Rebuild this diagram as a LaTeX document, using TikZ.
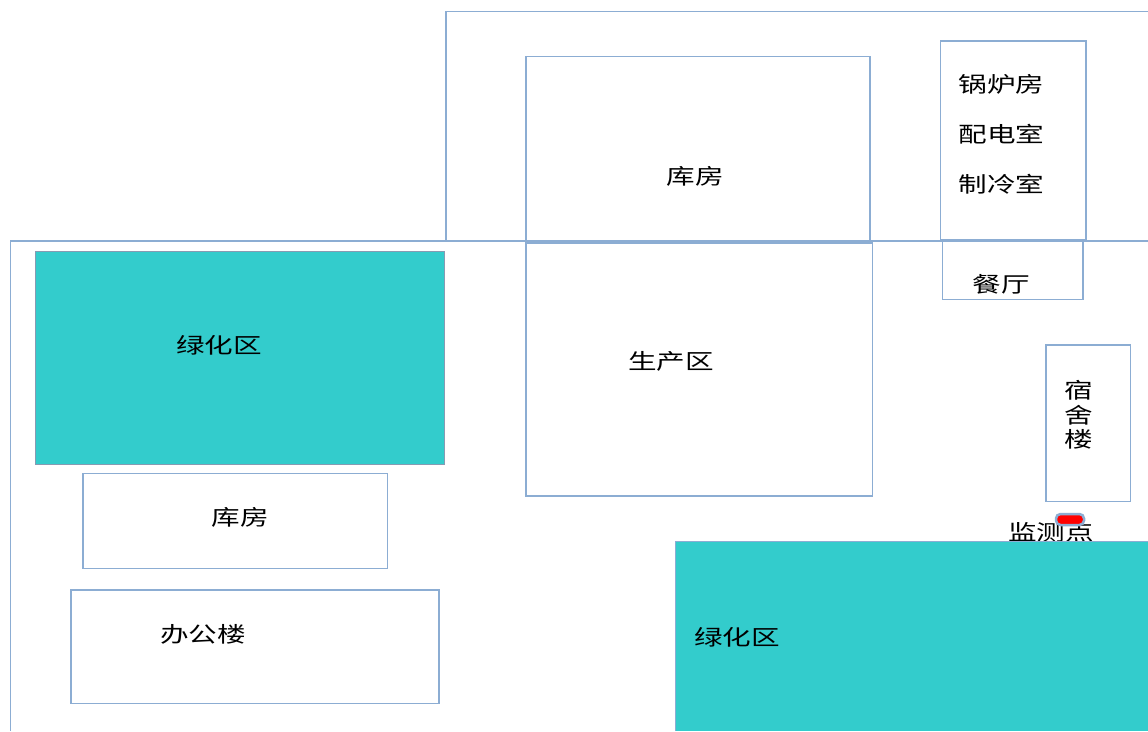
\documentclass[tikz,border=0pt]{standalone}
\usepackage{fontspec}
\newfontfamily\cjk[FakeStretch=1.33]{Noto Sans CJK SC}
\definecolor{edgeblue}{HTML}{8CADD3}
\definecolor{teal2}{HTML}{33CCCC}
\tikzset{
  room/.style={draw=edgeblue,line width=1.8pt},
  thinroom/.style={draw=edgeblue,line width=1.5pt},
  green area/.style={fill=teal2,draw=edgeblue!60!gray,line width=1pt},
  lbl/.style={font=\cjk\fontsize{21.5}{21.5}\selectfont,text=black,inner sep=0pt}
}
\begin{document}
\begin{tikzpicture}[x=1pt,y=-1pt]
\useasboundingbox (0,0) rectangle (1148,731);
\fill[white] (0,0) rectangle (1148,731);
% site outlines
\draw[thinroom] (1148,11.5) -- (446,11.5) -- (446,241);
\draw[thinroom] (1148,241) -- (10.5,241) -- (10.5,731);
% rooms
\draw[room] (526,56.5) rectangle (870,241);
\draw[room] (526,243) rectangle (872.5,496);
\draw[room] (940.5,41) rectangle (1086,240);
\draw[room] (942.5,241) rectangle (1083,299.5);
\draw[room] (1046,345) rectangle (1130.5,501.5);
\draw[room] (83,473.5) rectangle (387.5,568.5);
\draw[room] (71,590) rectangle (439,703.5);
% green area left
\draw[green area] (35,251) rectangle (444,464.5);
% labels
\node[lbl] (n1) at (695,176) {\cjk 库房};
\node[lbl] (n2) at (1001.5,84) {\cjk 锅炉房};
\node[lbl] (n3) at (1001.5,134.5) {\cjk 配电室};
\node[lbl] (n4) at (1001.5,184) {\cjk 制冷室};
\node[lbl] (n5) at (1001.5,284) {\cjk 餐厅};
\node[lbl] (n6) at (219,345) {\cjk 绿化区};
\node[lbl] (n7) at (671,361.5) {\cjk 生产区};
\node[lbl] (n8) at (1079,390.5) {\cjk 宿};
\node[lbl] (n9) at (1079,415) {\cjk 舍};
\node[lbl] (n10) at (1079,439) {\cjk 楼};
\node[lbl] (n11) at (240,517) {\cjk 库房};
\node[lbl] (n12) at (203,634) {\cjk 办公楼};
\node[lbl] (n13) at (1051,532.5) {\cjk 监测点};
% monitoring point
\draw[fill=red,draw=edgeblue,line width=2.5pt,rounded corners=4.5pt] (1056,514) rectangle (1084,525);
% green area right covers the bottom of the label
\fill[teal2] (675,541) rectangle (1148,731);
\draw[draw=edgeblue,line width=1pt] (675,731) -- (675,541) -- (1148,541);
\node[lbl] (n14) at (737,637) {\cjk 绿化区};
\end{tikzpicture}
\end{document}
